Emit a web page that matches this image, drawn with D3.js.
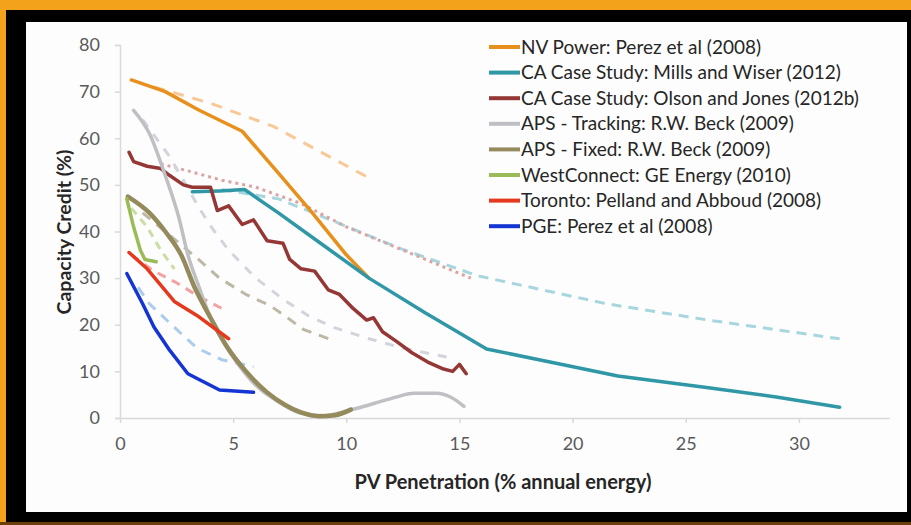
<!DOCTYPE html>
<html>
<head>
<meta charset="utf-8">
<script src="https://cdn.jsdelivr.net/npm/d3@7"></script>
<style>
  html, body { margin: 0; padding: 0; background: #000; }
  svg { display: block; }
  text { font-family: Lato, "Open Sans", sans-serif; }
</style>
</head>
<body>
<div id="chart"></div>
<script>
// Valores: [penetración FV %, crédito de capacidad %]
const xTicks = [0, 5, 10, 15, 20, 25, 30];
const yTicks = [0, 10, 20, 30, 40, 50, 60, 70, 80];

const seriesNames = [
  "NV Power: Perez et al (2008)",
  "CA Case Study: Mills and Wiser (2012)",
  "CA Case Study: Olson and Jones (2012b)",
  "APS - Tracking: R.W. Beck (2009)",
  "APS - Fixed: R.W. Beck (2009)",
  "WestConnect: GE Energy (2010)",
  "Toronto: Pelland and Abboud (2008)",
  "PGE: Perez et al (2008)"
];

// líneas continuas
const nvPower = [[0.5,72.5],[2,70],[3.5,66],[5.4,61.5],[7,52.5],[8.5,44],[10,35],[11,30]];
const millsWiser = [[3.2,48.5],[4.4,48.7],[5.5,49],[7,44],[9,37],[11,30],[13.5,22.5],[16.2,14.8],[19,12],[22,9],[26,6.5],[29,4.5],[31.8,2.3]];
const olsonJones = [[0.4,57],[0.6,55],[1.2,54],[1.8,53.5],[2.2,52],[2.8,50],[3.2,49.5],[4,49.5],[4.3,44.5],[4.8,45.5],[5.4,41.5],[5.9,42.5],[6.5,38],[7.2,37.5],[7.5,34],[8,32],[8.6,31.5],[9.2,27.5],[9.7,26.5],[10.3,23.5],[10.9,21],[11.2,21.5],[11.6,18.5],[12.2,16.5],[12.9,14],[13.6,12],[14.3,10.5],[14.7,10],[15,11.5],[15.3,9.5]];
const apsTracking = [[0.6,66],[1.3,61],[2,52],[2.6,43],[3,35],[3.5,28],[4,21.5],[4.6,16],[5.3,11],[6,7],[7,3.5],[8,1],[9,0.5],[10,1.5],[11,2.8],[12,4.2],[13,5.3],[14,5.3],[14.6,4.5],[15.2,2.5]];
const apsFixed = [[0.35,47.5],[1.3,44],[2,40],[2.7,35],[3.3,28],[4,21.5],[4.7,15.5],[5.6,9.8],[6.5,5.5],[7.3,2.8],[8,1.2],[8.8,0.4],[9.5,0.6],[10.2,1.8]];
const westConnect = [[0.3,47],[0.6,41],[0.9,36],[1.1,34],[1.6,33.5]];
const toronto = [[0.4,35.5],[1.2,32],[1.8,28.5],[2.4,25],[3.4,22],[4.8,17]];
const pge = [[0.3,31],[1,24.5],[1.5,19.5],[2.2,14.5],[3,9.5],[4.4,6],[5.9,5.5]];

// líneas discontinuas (segunda estimación de cada estudio)
const nvPowerDash = [[1.5,71],[4,67.5],[6.8,62.5],[8.7,57.5],[11,51.5]];
const millsWiserDash = [[4.5,49],[7,47],[9.3,42.5],[12.3,36.5],[15.8,30.5],[21.5,24.5],[26,21],[31.8,17]];
const olsonJonesDash = [[1.8,54.5],[3,53],[4.5,51],[6,49.5],[8,46],[10,41],[12,37],[14,33],[15.5,30]];
const apsTrackingDash = [[1,64],[2.2,56],[2.8,51],[3.5,45],[4.1,40.5],[4.8,36],[6,30],[7.2,25.5],[8.3,22],[9.4,19.5],[11,17],[12.5,15],[14.5,13]];
const apsFixedDash = [[1,44],[2,40],[3.4,34.3],[4.4,30],[5.6,26.4],[6.6,24.2],[7.4,21.5],[8.1,19],[9.5,16.5]];
const westConnectDash = [[0.5,45],[1.2,41],[1.8,36],[2.4,32]];
const torontoDash = [[0.5,35],[1.5,31.5],[2.5,29],[3.5,26],[4.7,23]];
const pgeDash = [[0.8,28],[1.3,24.5],[2.5,19],[3.4,15],[4.5,12.5],[5.9,11]];

const solidColors = ["#E8901C", "#2F97A6", "#953735", "#BFBFC4", "#948A5C", "#9BBB59", "#E5391E", "#1434D4"];
const dashColors = ["#F8C896", "#A8D6DE", "#DDA3A3", "#D3D3DC", "#BDB8A4", "#CBDDA6", "#F2A2A0", "#AACDEB"];

const solidData = [nvPower, millsWiser, olsonJones, apsTracking, apsFixed, westConnect, toronto, pge];
const dashData = [nvPowerDash, millsWiserDash, olsonJonesDash, apsTrackingDash, apsFixedDash, westConnectDash, torontoDash, pgeDash];

// Tamaño total y marco
const W = 911, H = 525;

const svg = d3.select("#chart")
  .append("svg")
  .attr("width", W)
  .attr("height", H);

// marco naranja / negro
svg.append("rect").attr("x", 0).attr("y", 0).attr("width", W).attr("height", H).attr("fill", "#000");
svg.append("rect").attr("x", 0).attr("y", 0).attr("width", W).attr("height", 10).attr("fill", "#F2A31B");
svg.append("rect").attr("x", 0).attr("y", 0).attr("width", 6).attr("height", H).attr("fill", "#F2A31B");
svg.append("rect").attr("x", 0).attr("y", 522).attr("width", W).attr("height", 3).attr("fill", "#6B3E0A");
svg.append("rect").attr("x", 26).attr("y", 22).attr("width", 881).attr("height", 490).attr("fill", "#FDFDFD");

// Escalas
const x = d3.scaleLinear().domain([0, 34]).range([120, 120 + 34 * 22.63]);
const y = d3.scaleLinear().domain([0, 80]).range([418, 45]);

// Eje Y
const yAxis = svg.append("g")
  .attr("transform", "translate(120,0)")
  .call(d3.axisLeft(y).tickValues(yTicks).tickSize(5).tickPadding(15).tickFormat(d3.format("d")));
yAxis.select(".domain").attr("stroke", "#D9D9D9").attr("stroke-width", 1.5);
yAxis.selectAll(".tick line").attr("stroke", "#D9D9D9").attr("stroke-width", 1.5);
yAxis.selectAll(".tick text").attr("fill", "#595959").style("font-size", "18px");

// Eje X
const xAxis = svg.append("g")
  .attr("transform", "translate(0,418)")
  .call(d3.axisBottom(x).tickValues(xTicks).tickSize(5).tickPadding(14).tickSizeOuter(0).tickFormat(d3.format("d")));
xAxis.select(".domain").attr("stroke", "#D9D9D9").attr("stroke-width", 1.5);
xAxis.selectAll(".tick line").attr("stroke", "#D9D9D9").attr("stroke-width", 1.5);
xAxis.selectAll(".tick text").attr("fill", "#595959").style("font-size", "18px");

// Títulos de los ejes
svg.append("text")
  .attr("x", 503).attr("y", 489)
  .attr("text-anchor", "middle")
  .attr("font-weight", "bold")
  .attr("fill", "#262626")
  .style("font-size", "20px")
  .text("PV Penetration (% annual energy)");

svg.append("text")
  .attr("transform", "translate(71,232) rotate(-90)")
  .attr("text-anchor", "middle")
  .attr("font-weight", "bold")
  .attr("fill", "#262626")
  .style("font-size", "19.5px")
  .text("Capacity Credit (%)");

const line = d3.line()
  .x(d => x(d[0]))
  .y(d => y(d[1]))
  .curve(d3.curveLinear);

// Discontinuas primero (quedan debajo)
const dashPattern = [[11, 9], [10, 7], [3, 4], [9, 9], [10, 8], [8, 6], [9, 7], [10, 8]];
dashData.forEach((serie, i) => {
  svg.append("path")
    .datum(serie)
    .attr("d", line)
    .attr("fill", "none")
    .attr("stroke", dashColors[i])
    .attr("stroke-width", 3)
    .attr("stroke-dasharray", dashPattern[i].join(","));
});

// Continuas
solidData.forEach((serie, i) => {
  svg.append("path")
    .datum(serie)
    .attr("d", line.curve(i === 3 || i === 4 ? d3.curveMonotoneX : d3.curveLinear))
    .attr("fill", "none")
    .attr("stroke", solidColors[i])
    .attr("stroke-width", i === 4 ? 4.5 : 3.5)
    .attr("stroke-linejoin", "round")
    .attr("stroke-linecap", "round");
});

// Leyenda
const legend = svg.append("g");
seriesNames.forEach((name, i) => {
  const ly = 47 + i * 25.6;
  legend.append("line")
    .attr("x1", 489).attr("x2", 520)
    .attr("y1", ly).attr("y2", ly)
    .attr("stroke", solidColors[i])
    .attr("stroke-width", 4);
  legend.append("text")
    .attr("x", 521).attr("y", ly)
    .attr("dy", "0.35em")
    .attr("fill", "#262626")
    .style("font-size", "19px")
    .text(name);
});
</script>
</body>
</html>
